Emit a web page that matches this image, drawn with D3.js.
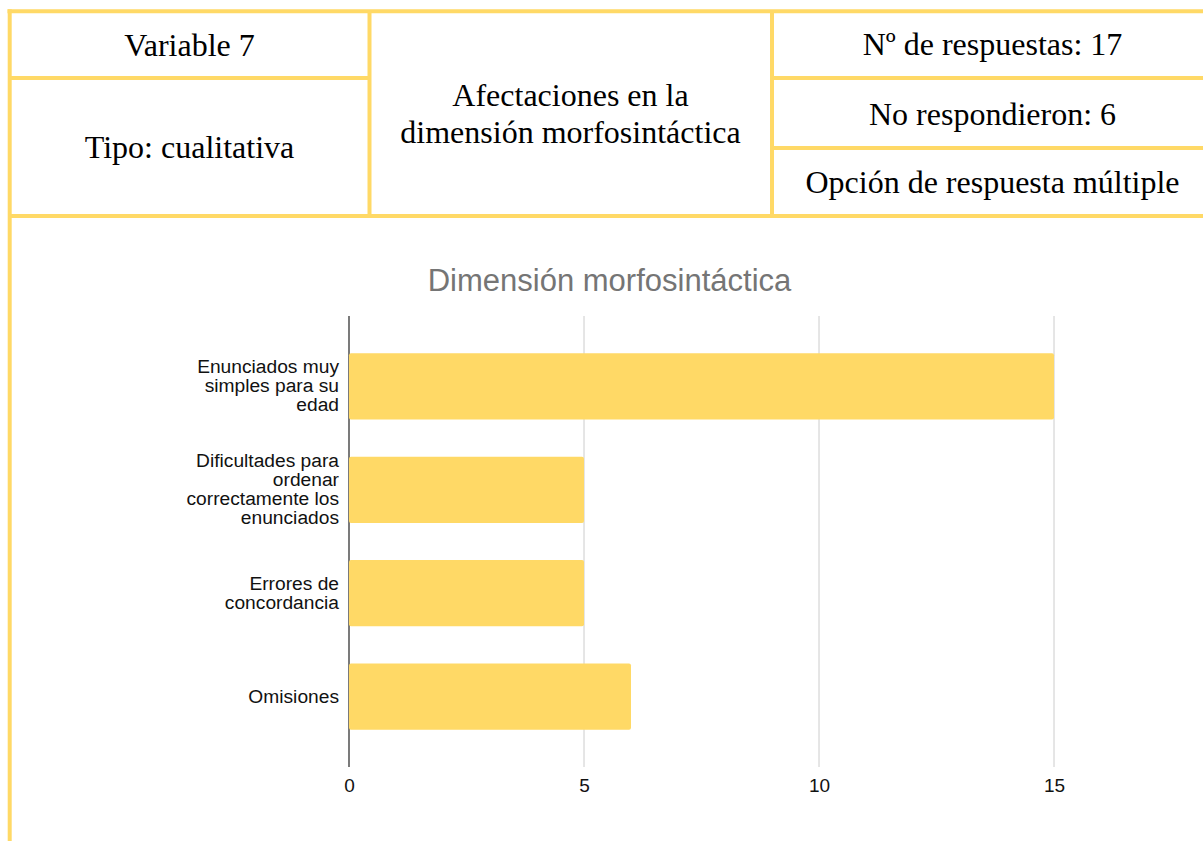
<!DOCTYPE html>
<html>
<head>
<meta charset="utf-8">
<script src="https://cdn.jsdelivr.net/npm/d3@7"></script>
<style>
  body { margin: 0; background: #fff; }
</style>
</head>
<body>
<svg id="chart" width="1203" height="841"></svg>
<script>
// header table texts
const headerLeft = ["Variable 7", "Tipo: cualitativa"];
const headerMiddle = ["Afectaciones en la", "dimensión morfosintáctica"];
const headerRight = ["Nº de respuestas: 17", "No respondieron: 6", "Opción de respuesta múltiple"];

// chart data
const chartTitle = "Dimensión morfosintáctica";
const categories = [
  "Enunciados muy simples para su edad",
  "Dificultades para ordenar correctamente los enunciados",
  "Errores de concordancia",
  "Omisiones"
];
const labelLines = [
  ["Enunciados muy", "simples para su", "edad"],
  ["Dificultades para", "ordenar", "correctamente los", "enunciados"],
  ["Errores de", "concordancia"],
  ["Omisiones"]
];
const values = [15, 5, 5, 6];
const xTicks = [0, 5, 10, 15];

const yellow = "#FFD966";
const serif = "'Liberation Serif', 'Times New Roman', serif";
const sans = "'Liberation Sans', Arial, sans-serif";

const svg = d3.select("#chart");

// ---- table frame ----
const frame = svg.append("g")
    .attr("class", "frame")
    .attr("stroke", yellow)
    .attr("stroke-width", 4)
    .attr("fill", "none");

const frameLines = [
  [7.5, 11.3, 1203, 11.3],     // top
  [9.7, 9.3, 9.7, 841],        // left, runs down past the chart
  [369.5, 11.3, 369.5, 216],   // column 1
  [772, 11.3, 772, 216],       // column 2
  [9.7, 78, 369.5, 78],        // left row split
  [772, 78, 1203, 78],         // right row split 1
  [772, 148, 1203, 148],       // right row split 2
  [9.7, 216, 1203, 216]        // bottom of header
];

frame.selectAll("line")
  .data(frameLines)
  .enter().append("line")
    .attr("x1", d => d[0])
    .attr("y1", d => d[1])
    .attr("x2", d => d[2])
    .attr("y2", d => d[3]);

const header = svg.append("g")
    .attr("class", "header")
    .attr("font-family", serif)
    .attr("font-size", 32)
    .attr("fill", "#000")
    .attr("text-anchor", "middle");

header.selectAll("text.left")
  .data(headerLeft)
  .enter().append("text")
    .attr("class", "left")
    .attr("x", 189.5)
    .attr("y", (d, i) => [56, 158][i])
    .text(d => d);

header.selectAll("text.middle")
  .data(headerMiddle)
  .enter().append("text")
    .attr("class", "middle")
    .attr("x", 570.5)
    .attr("y", (d, i) => 106 + i * 37)
    .text(d => d);

header.selectAll("text.right")
  .data(headerRight)
  .enter().append("text")
    .attr("class", "right")
    .attr("x", 992.5)
    .attr("y", (d, i) => [55, 125, 193][i])
    .text(d => d);

// ---- bar chart ----
const plot = { left: 349, right: 1054, top: 316, bottom: 767 };

const x = d3.scaleLinear()
    .domain([0, 15])
    .range([plot.left, plot.right]);

const y = d3.scaleBand()
    .domain(categories)
    .range([plot.top, plot.bottom])
    .padding(0.36);

svg.append("text")
    .attr("class", "chart-title")
    .attr("x", 609.5)
    .attr("y", 291)
    .attr("text-anchor", "middle")
    .attr("font-family", sans)
    .attr("font-size", 31)
    .attr("fill", "#757575")
    .text(chartTitle);

// gridlines
svg.append("g")
    .attr("class", "grid")
    .selectAll("line")
    .data(xTicks.filter(t => t > 0))
    .enter().append("line")
      .attr("x1", d => x(d))
      .attr("x2", d => x(d))
      .attr("y1", plot.top)
      .attr("y2", plot.bottom)
      .attr("stroke", "#cccccc")
      .attr("stroke-width", 1);

// baseline at zero
svg.append("line")
    .attr("class", "baseline")
    .attr("x1", x(0))
    .attr("x2", x(0))
    .attr("y1", plot.top)
    .attr("y2", plot.bottom)
    .attr("stroke", "#222")
    .attr("stroke-width", 1.2);

svg.append("g")
    .attr("class", "bars")
    .selectAll("rect")
    .data(categories)
    .enter().append("rect")
      .attr("x", x(0))
      .attr("y", d => y(d))
      .attr("width", (d, i) => x(values[i]) - x(0))
      .attr("height", y.bandwidth())
      .attr("rx", 2)
      .attr("ry", 2)
      .attr("fill", yellow);

// x axis labels
svg.append("g")
    .attr("class", "x-axis")
    .attr("transform", `translate(0,${plot.bottom})`)
    .call(d3.axisBottom(x).tickValues(xTicks).tickSize(0).tickPadding(0))
    .call(g => g.select(".domain").remove())
    .call(g => g.selectAll(".tick text")
                  .attr("font-family", sans)
                  .attr("font-size", 19)
                  .attr("fill", "#111")
                  .attr("dy", null)
                  .attr("y", 25));

// category labels, wrapped by hand like the original
const labels = svg.append("g")
    .attr("class", "y-labels")
    .attr("font-family", sans)
    .attr("font-size", 19.2)
    .attr("fill", "#111")
    .attr("text-anchor", "end");

labels.selectAll("text")
  .data(categories)
  .enter().append("text")
    .each(function(d, i) {
      const lines = labelLines[i];
      const mid = y(d) + y.bandwidth() / 2 + 6;
      d3.select(this).selectAll("tspan")
        .data(lines)
        .enter().append("tspan")
          .attr("x", plot.left - 10)
          .attr("y", (l, j) => mid + (j - (lines.length - 1) / 2) * 19)
          .text(l => l);
    });
</script>
</body>
</html>
